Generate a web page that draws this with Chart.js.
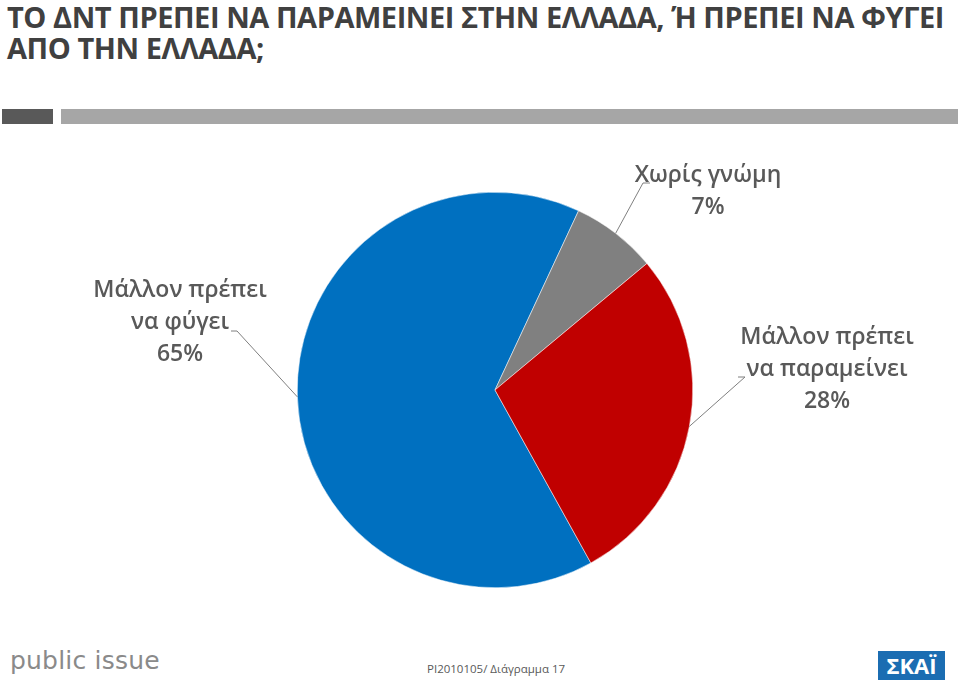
<!DOCTYPE html>
<html>
<head>
<meta charset="utf-8">
<script src="https://cdn.jsdelivr.net/npm/chart.js@4"></script>
<style>
  body { margin: 0; width: 960px; height: 682px; background: #fff; position: relative; overflow: hidden; font-family: "Open Sans", sans-serif; }
  #title { position: absolute; left: 7px; top: 1px; font-weight: bold; font-size: 29px; line-height: 31px; color: #404040; white-space: nowrap; letter-spacing: -0.45px; }
  .bar { position: absolute; top: 109px; height: 15px; }
  #chartBox { position: absolute; left: 0; top: 140px; width: 960px; height: 500px; }
  #logo { position: absolute; left: 10px; top: 646px; font-family: "DejaVu Sans", sans-serif; font-size: 25px; color: #8a8a8a; letter-spacing: 0.2px; }
  #code { position: absolute; left: 427px; top: 661px; font-size: 11.5px; color: #595959; }
  #skai { position: absolute; left: 878px; top: 651px; width: 67px; height: 29px; background: #1b6db2; color: #fff; font-weight: bold; font-size: 22px; line-height: 29px; text-align: center; }
</style>
</head>
<body>
<div id="title">ΤΟ ΔΝΤ ΠΡΕΠΕΙ ΝΑ ΠΑΡΑΜΕΙΝΕΙ ΣΤΗΝ ΕΛΛΑΔΑ, Ή ΠΡΕΠΕΙ ΝΑ ΦΥΓΕΙ<br>ΑΠΟ ΤΗΝ ΕΛΛΑΔΑ;</div>
<div class="bar" style="left:2px;width:51px;background:#595959"></div>
<div class="bar" style="left:61px;width:897px;background:#a6a6a6"></div>
<div id="chartBox"><canvas id="pieChart"></canvas></div>
<div id="logo">public issue</div>
<div id="code">PI2010105/ Διάγραμμα 17</div>
<div id="skai">ΣΚΑΪ</div>
<script>
// Slice data (clockwise from the blue slice)
const categories = ['Μάλλον πρέπει να φύγει', 'Χωρίς γνώμη', 'Μάλλον πρέπει να παραμείνει'];
const values = [65, 7, 28];
const colors = ['#0070c0', '#808080', '#c00000'];
// label lines as shown on the slide
const labelLines = [
    ['Μάλλον πρέπει', 'να φύγει', '65%'],
    ['Χωρίς γνώμη', '7%'],
    ['Μάλλον πρέπει', 'να παραμείνει', '28%']
];

// label placement (canvas px): text centre x, first line y, leader anchor
const labelPos = [
    { x: 180, y: 150, ax: 237, ay: 191, hx: 231 },
    { x: 708, y: 35, ax: 643, ay: 43, hx: 650 },
    { x: 827, y: 197, ax: 745, ay: 237, hx: 738 }
];

const labelPlugin = {
    id: 'sliceLabels',
    afterDraw(chart) {
        const ctx = chart.ctx;
        const arcs = chart.getDatasetMeta(0).data;
        ctx.save();
        arcs.forEach(function(arc, i) {
            const p = labelPos[i];
            const mid = (arc.startAngle + arc.endAngle) / 2;
            const ex = arc.x + Math.cos(mid) * arc.outerRadius;
            const ey = arc.y + Math.sin(mid) * arc.outerRadius;
            ctx.strokeStyle = '#7f7f7f';
            ctx.lineWidth = 1;
            ctx.beginPath();
            ctx.moveTo(p.hx, p.ay);
            ctx.lineTo(p.ax, p.ay);
            ctx.lineTo(ex, ey);
            ctx.stroke();
            ctx.fillStyle = '#595959';
            ctx.font = '600 23px "Open Sans"';
            ctx.textAlign = 'center';
            ctx.textBaseline = 'middle';
            labelLines[i].forEach(function(t, k) {
                ctx.fillText(t, p.x, p.y + k * 32);
            });
        });
        ctx.restore();
    }
};

new Chart(document.getElementById('pieChart'), {
    type: 'pie',
    data: {
        labels: categories,
        datasets: [{
            data: values,
            backgroundColor: colors,
            borderColor: '#ffffff',
            borderWidth: 0.5
        }]
    },
    options: {
        responsive: true,
        maintainAspectRatio: false,
        animation: false,
        rotation: 151,
        layout: { padding: { left: 30, right: 0, top: 52, bottom: 52 } },
        plugins: {
            legend: { display: false },
            tooltip: { enabled: false }
        }
    },
    plugins: [labelPlugin]
});
</script>
</body>
</html>
